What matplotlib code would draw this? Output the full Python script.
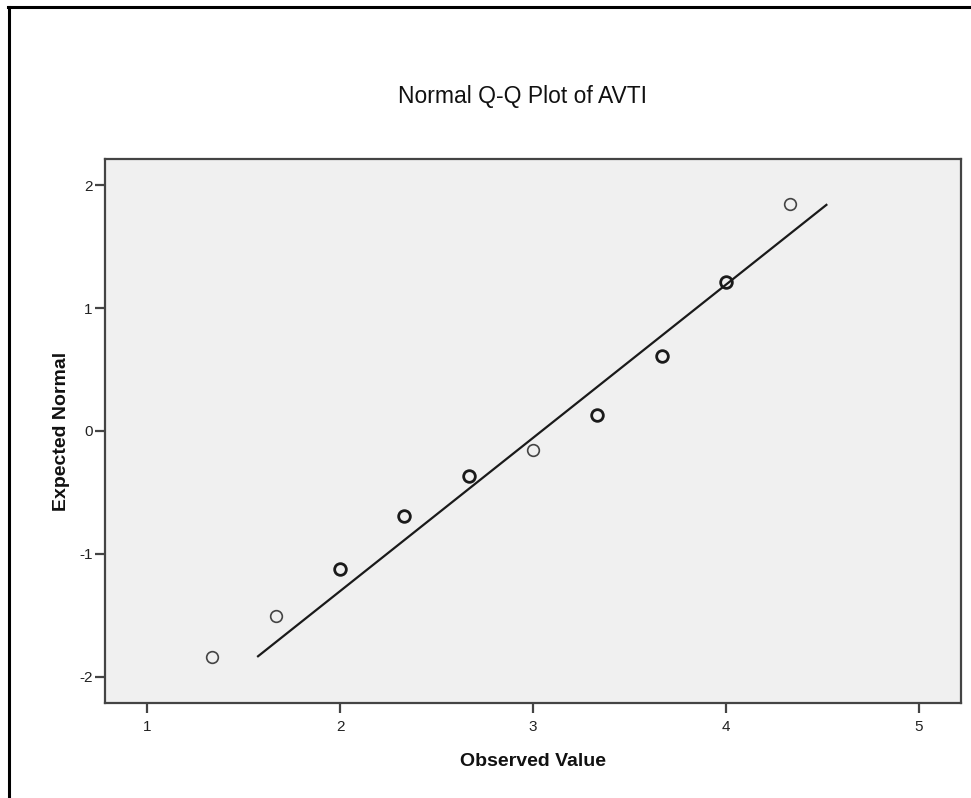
import matplotlib
matplotlib.use("Agg")
import matplotlib.pyplot as plt
from matplotlib.lines import Line2D
import numpy as np

plt.rcParams['font.family'] = ['Liberation Sans', 'DejaVu Sans']

# Observed AVTI scores and their expected normal quantiles
observed = [1.333, 1.667, 2.0, 2.333, 2.667, 3.0, 3.333, 3.667, 4.0, 4.333]
expected = [-1.84, -1.51, -1.12, -0.69, -0.365, -0.158, 0.13, 0.607, 1.214, 1.847]
# number of cases sharing each observed value (1 = single case)
case_count = [1, 1, 2, 2, 2, 1, 2, 2, 2, 1]

# parameters of the reference normal line
line_mean = 3.045
line_sd = 0.802

x_ticks = [1, 2, 3, 4, 5]
y_ticks = [-2, -1, 0, 1, 2]

W, H = 971, 798
fig = plt.figure(figsize=(W / 100, H / 100), dpi=100)
fig.patch.set_facecolor('white')

left, right, top, bottom = 105, 961, 159, 703
ax = fig.add_axes([left / W, 1 - bottom / H, (right - left) / W, (bottom - top) / H])
ax.set_facecolor('#f0f0f0')

ax.set_xlim(0.78, 5.22)
ax.set_ylim(-2.215, 2.215)

# reference line spanning the range of expected values
y_line = np.array([min(expected), max(expected)])
x_line = line_mean + line_sd * y_line
ax.plot(x_line, y_line, color='#1a1a1a', lw=1.6, solid_capstyle='butt', zorder=2)

for xo, ye, c in zip(observed, expected, case_count):
    ax.plot([xo], [ye], marker='o', linestyle='none', markersize=8.4,
            markerfacecolor='none',
            markeredgecolor='#1a1a1a' if c > 1 else '#444444',
            markeredgewidth=2.0 if c > 1 else 1.2, zorder=3)

ax.set_xticks(x_ticks)
ax.set_yticks(y_ticks)
ax.set_xticklabels([str(v) for v in x_ticks])
ax.set_yticklabels([str(v) for v in y_ticks])
ax.tick_params(axis='both', direction='out', length=7.5, width=1.6,
               color='#444444', labelsize=11, labelcolor='#222222')
ax.tick_params(axis='x', pad=5)
ax.tick_params(axis='y', pad=1.5)

for side in ['left', 'right', 'top', 'bottom']:
    ax.spines[side].set_color('#444444')
    ax.spines[side].set_linewidth(1.6)

# axis titles
fig.text(533 / W, 1 - 762 / H, 'Observed Value', ha='center', va='center',
         fontsize=14, fontweight='bold', color='#111111')
fig.text(61 / W, 1 - 431 / H, 'Expected Normal', ha='center', va='center',
         rotation=90, fontsize=14, fontweight='bold', color='#111111')

fig.text(522 / W, 1 - 97 / H, 'Normal Q-Q Plot of AVTI', ha='center', va='center',
         fontsize=16.5, color='#111111')

# outer frame lines (top and left)
fig.add_artist(Line2D([8 / W, 1.0], [1 - 6.5 / H, 1 - 6.5 / H], color='black', lw=2.2,
                      transform=fig.transFigure))
fig.add_artist(Line2D([8.5 / W, 8.5 / W], [0.0, 1 - 6.5 / H], color='black', lw=2.2,
                      transform=fig.transFigure))

fig.savefig('out.png', dpi=100)
